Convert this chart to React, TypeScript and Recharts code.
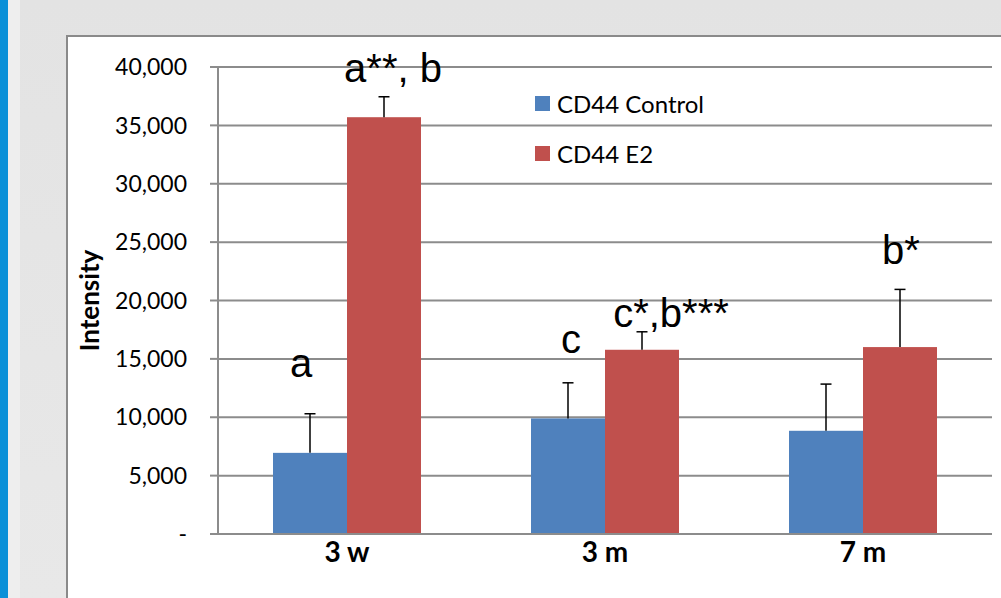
import { BarChart, Bar, XAxis, YAxis, CartesianGrid, Legend, LabelList } from 'recharts'

const categories = ['3 w', '3 m', '7 m']
const controlMeans = [6950, 9900, 8840]
const controlErrs = [3350, 3050, 4000]
const e2Means = [35700, 15780, 16010]
const e2Errs = [1750, 1540, 4940]
const controlNotes = ['a', 'c', '']
const e2Notes = ['a**, b', 'c*,b***', 'b*']
const yTicks = [0, 5000, 10000, 15000, 20000, 25000, 30000, 35000, 40000]

const BLUE = '#4f81bd'
const RED = '#c0504d'
const GRID = '#8c8c8c'
const AXIS_FONT = 'Lato, "Noto Sans", sans-serif'
const NOTE_FONT = '"Liberation Sans", Arial, sans-serif'

// hand placed like the text boxes in the original: [dx from bar centre, gap above error cap]
const noteNudge: Record<string, [number, number]> = {
  'a': [-9, 37],
  'a**, b': [9, 15],
  'c': [3, 30],
  'c*,b***': [29, 5],
  'b*': [1, 25],
}

function barWithError(means: number[], errs: number[]) {
  return (props: any) => {
    const { x, y, width, height, fill, index } = props
    const errPx = (errs[index] * height) / means[index]
    const cx = x + width / 2
    const top = y - errPx
    return (
      <g>
        <rect x={x} y={y} width={width} height={height} fill={fill} />
        <line x1={cx} x2={cx} y1={y} y2={top} stroke="#000" strokeWidth={1.5} />
        <line x1={cx - 5.5} x2={cx + 5.5} y1={top} y2={top} stroke="#000" strokeWidth={1.5} />
      </g>
    )
  }
}

function noteLabel(means: number[], errs: number[]) {
  return (props: any) => {
    const { value, index } = props
    if (!value) return null
    const vb = props.viewBox ?? props
    const { x, y, width, height } = vb
    const top = y - (errs[index] * height) / means[index]
    const [dx, gap] = noteNudge[value] ?? [0, 10]
    return (
      <text x={x + width / 2 + dx} y={top - gap} textAnchor="middle"
        style={{ fontFamily: NOTE_FONT, fontSize: 40, fill: '#000' }}>
        {value}
      </text>
    )
  }
}

function LegendBox() {
  const items = [
    { name: 'CD44 Control', color: BLUE },
    { name: 'CD44 E2', color: RED },
  ]
  return (
    <div>
      {items.map(it => (
        <div key={it.name} style={{ display: 'flex', alignItems: 'center', height: 50 }}>
          <div style={{ width: 15, height: 15, background: it.color, marginRight: 7 }} />
          <span style={{ fontFamily: AXIS_FONT, fontSize: 24, color: '#000' }}>{it.name}</span>
        </div>
      ))}
    </div>
  )
}

export default function App() {
  const data = categories.map((cat, i) => ({
    cat,
    ctrl: controlMeans[i],
    e2: e2Means[i],
    ctrlNote: controlNotes[i],
    e2Note: e2Notes[i],
  }))

  return (
    <div style={{ position: 'absolute', left: 0, top: 0, width: 1001, height: 598, overflow: 'hidden',
      background: 'linear-gradient(180deg, #e3e3e3 0%, #e8e8e8 100%)' }}>
      <div style={{ position: 'absolute', left: 0, top: 0, width: 8, height: 598, background: '#0a90d8' }} />
      <div style={{ position: 'absolute', left: 8, top: 0, width: 12, height: 598, background: '#eeeeee' }} />
      <div style={{ position: 'absolute', left: 66, top: 35, width: 1000, height: 600, background: '#fff',
        border: '2px solid #8a8a8a', boxSizing: 'border-box' }} />
      <div style={{ position: 'absolute', left: 0, top: 0 }}>
        <BarChart width={1001} height={598} data={data}
          margin={{ top: 67, right: 9, bottom: 34, left: 0 }} barSize={74} barGap={0}>
          <CartesianGrid vertical={false} stroke={GRID} strokeWidth={2} />
          <XAxis
            dataKey="cat"
            height={30}
            axisLine={{ stroke: GRID, strokeWidth: 2 }}
            tickLine={false}
            tickSize={0}
            tickMargin={8}
            tick={{ fontFamily: AXIS_FONT, fontSize: 28, fontWeight: 700, fill: '#000' }}
          />
          <YAxis
            width={218}
            domain={[0, 40000]}
            ticks={yTicks}
            interval={0}
            axisLine={{ stroke: GRID, strokeWidth: 2 }}
            tickLine={{ stroke: GRID, strokeWidth: 2 }}
            tickSize={8}
            tickMargin={23}
            tickFormatter={(v: number) => (v === 0 ? '-' : v.toLocaleString('en-US'))}
            tick={{ fontFamily: AXIS_FONT, fontSize: 23, fill: '#000' }}
            label={{
              content: (p: any) => {
                const vb = p.viewBox
                const cy = vb.y + vb.height / 2
                return (
                  <text x={99} y={cy} transform={`rotate(-90, 99, ${cy})`} textAnchor="middle"
                    style={{ fontFamily: AXIS_FONT, fontSize: 26, fontWeight: 700, fill: '#000' }}>
                    Intensity
                  </text>
                )
              },
            }}
          />
          <Legend
            layout="vertical"
            align="center"
            verticalAlign="middle"
            content={() => <LegendBox />}
            wrapperStyle={{ left: 535, top: 78, width: 'auto', height: 'auto' }}
          />
          <Bar dataKey="ctrl" name="CD44 Control" fill={BLUE} isAnimationActive={false}
            shape={barWithError(controlMeans, controlErrs)}>
            <LabelList dataKey="ctrlNote" content={noteLabel(controlMeans, controlErrs)} />
          </Bar>
          <Bar dataKey="e2" name="CD44 E2" fill={RED} isAnimationActive={false}
            shape={barWithError(e2Means, e2Errs)}>
            <LabelList dataKey="e2Note" content={noteLabel(e2Means, e2Errs)} />
          </Bar>
        </BarChart>
      </div>
    </div>
  )
}
